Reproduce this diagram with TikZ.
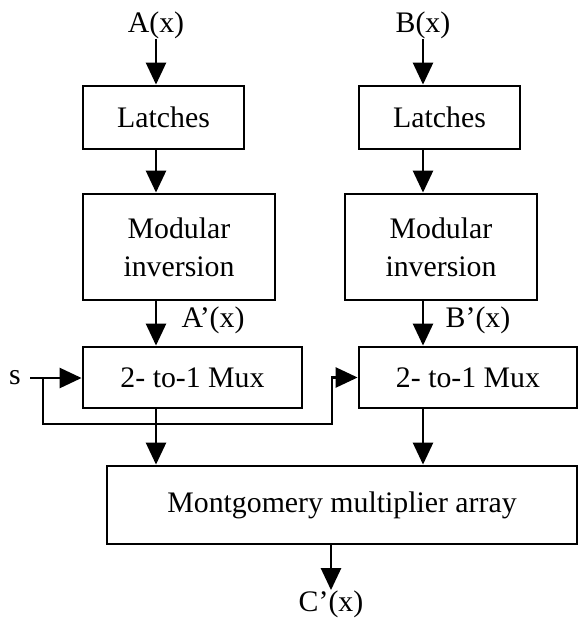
\documentclass[tikz,border=0pt]{standalone}
\usepackage{fontspec}
\setmainfont{Liberation Serif}
\usetikzlibrary{arrows.meta}
\begin{document}
\begin{tikzpicture}[x=0.5pt,y=-0.5pt,
    blk/.style={draw,line width=1.4pt,inner sep=0pt,align=center,
                font=\fontsize{14.9}{19}\selectfont},
    lbl/.style={inner sep=0pt,font=\fontsize{14.9}{19}\selectfont},
    sig/.style={line width=1.3pt,-{Triangle[width=10pt,length=11pt]}}]
  \useasboundingbox (0,0) rectangle (578,620);

  % blocks
  \node[blk,minimum width=80.5pt,minimum height=31.5pt] (latA) at (163.5,117.5) {Latches};
  \node[blk,minimum width=80.5pt,minimum height=31.5pt] (latB) at (439.5,117.5) {Latches};
  \node[blk,minimum width=96pt,minimum height=53pt]     (invA) at (179,247) {Modular\\inversion};
  \node[blk,minimum width=96pt,minimum height=53pt]     (invB) at (441,247) {Modular\\inversion};
  \node[blk,minimum width=109.5pt,minimum height=30.5pt] (muxA) at (192.5,377.5) {2- to-1 Mux};
  \node[blk,minimum width=109pt,minimum height=30.5pt]   (muxB) at (468,377.5) {2- to-1 Mux};
  \node[blk,minimum width=235pt,minimum height=39pt]     (mont) at (342,505) {Montgomery multiplier array};

  % signal labels
  \node[lbl] (ax)  at (156,25)  {A(x)};
  \node[lbl] (bx)  at (423,25)  {B(x)};
  \node[lbl] (apx) at (213,320) {A’(x)};
  \node[lbl] (bpx) at (478,320) {B’(x)};
  \node[lbl] (s)   at (15,378)  {s};
  \node[lbl] (cx)  at (331,604) {C’(x)};

  % columns and select wiring
  \coordinate (colA) at (156,0);
  \coordinate (colB) at (423,0);
  \coordinate (sj) at (43,378);
  \coordinate (sr) at (332,424);

  % data path
  \draw[sig] (ax.south) -- (latA.north -| ax.south);
  \draw[sig] (bx.south) -- (latB.north -| bx.south);
  \draw[sig] (latA.south -| colA) -- (invA.north -| colA);
  \draw[sig] (latB.south -| colB) -- (invB.north -| colB);
  \draw[sig] (invA.south -| colA) -- (muxA.north -| colA);
  \draw[sig] (invB.south -| colB) -- (muxB.north -| colB);
  \draw[sig] (muxA.south -| colA) -- (mont.north -| colA);
  \draw[sig] (muxB.south -| colB) -- (mont.north -| colB);
  \draw[sig] (mont.south -| cx.north) -- (cx.north);

  % select line
  \draw[sig,shorten <=4.5pt] (s.east) -- (s.east -| muxA.west);
  \draw[sig] (sj) |- (sr) |- (muxB.west);
\end{tikzpicture}
\end{document}
